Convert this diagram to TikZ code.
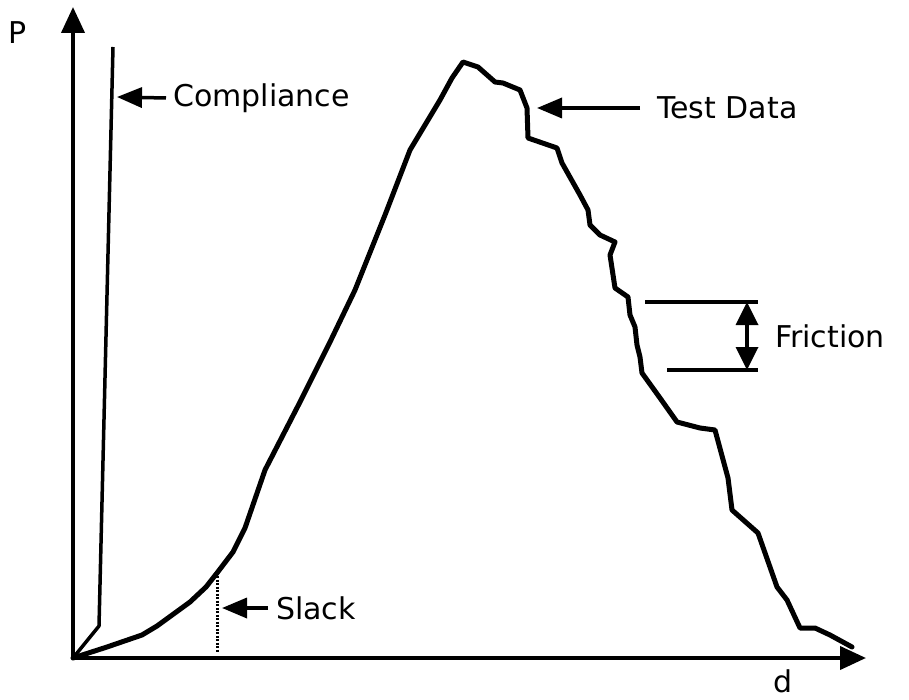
\documentclass[tikz,border=0pt]{standalone}
\usepackage{fontspec}
\setmainfont{DejaVu Sans}
\usetikzlibrary{arrows.meta}
\begin{document}
\begin{tikzpicture}[x=1pt,y=-1pt,
  axis/.style={line width=4pt,-{Triangle[length=26pt,width=23pt]}},
  curve/.style={line width=5pt,line join=round,line cap=round},
  pointer/.style={line width=3.5pt,-{Triangle[length=25pt,width=20pt]}},
  label/.style={anchor=west,inner sep=0pt,font=\fontsize{30}{30}\selectfont},
  tick/.style={line width=3.5pt}]
\useasboundingbox (0,0) rectangle (909,700);

% axes
\coordinate (O) at (73,658);
\coordinate (Ptop) at (73,7);
\coordinate (Dend) at (866,658);
\draw[axis] (O) -- (Ptop);
\draw[axis] (O) -- (Dend);
\node[label] (P) at (8,33) {P};
\node[label] (d) at (773,681) {d};

% compliance line
\coordinate (c1) at (99,626);
\coordinate (c2) at (113,47);
\draw[line width=3.5pt,line join=round] (O) -- (c1) -- (c2);

% test data curve
\draw[curve] (O) -- (107,647) -- (142,635) -- (157,626) -- (190,602) -- (206,587)
  -- (217,573) -- (233,552) -- (245,528) -- (265,470) -- (300,402) -- (330,342)
  -- (355,290) -- (385,215) -- (410,150) -- (440,100) -- (452,78) -- (463,62)
  -- (478,67) -- (495,82) -- (503,83) -- (520,90) -- (527,108) -- (528,138)
  -- (557,148) -- (562,163) -- (580,195) -- (588,210) -- (590,225) -- (600,235)
  -- (615,242) -- (610,255) -- (615,288) -- (628,297) -- (630,315) -- (635,327)
  -- (637,345) -- (640,357) -- (642,373) -- (660,398) -- (677,422) -- (700,428)
  -- (715,430) -- (728,478) -- (732,510) -- (758,533) -- (777,587) -- (787,600)
  -- (800,628) -- (815,628) -- (830,635) -- (852,647);

% slack marker
\coordinate (s1) at (217,576);
\coordinate (s2) at (217,653);
\draw[line width=3pt,dash pattern=on 2pt off 1.5pt] (s1) -- (s2);

% labels with pointers
\node[label] (comp) at (173,98) {Compliance};
\coordinate (compTip) at (117,97);
\draw[pointer] (comp.west) ++(-7,0) coordinate (compTail) (compTail) -- (compTip);

\node[label] (test) at (657,108) {Test Data};
\coordinate (testTip) at (537,108);
\draw[pointer] (test.west) ++(-17,0) coordinate (testTail) (testTail) -- (testTip);

\node[label] (slack) at (276,608) {Slack};
\coordinate (slackTip) at (222,608);
\draw[pointer] (slack.west) ++(-8,0) coordinate (slackTail) (slackTail) -- (slackTip);

% friction band
\coordinate (f1) at (645,302);
\coordinate (f2) at (758,302);
\coordinate (f3) at (667,370);
\coordinate (f4) at (758,370);
\draw[tick] (f1) -- (f2);
\draw[tick] (f3) -- (f4);
\coordinate (fa) at (747,302);
\coordinate (fb) at (747,370);
\draw[line width=3.5pt,{Triangle[length=23pt,width=22pt]}-{Triangle[length=23pt,width=22pt]}] (fa) -- (fb);
\node[label] (fric) at (775,336) {Friction};
\end{tikzpicture}
\end{document}
